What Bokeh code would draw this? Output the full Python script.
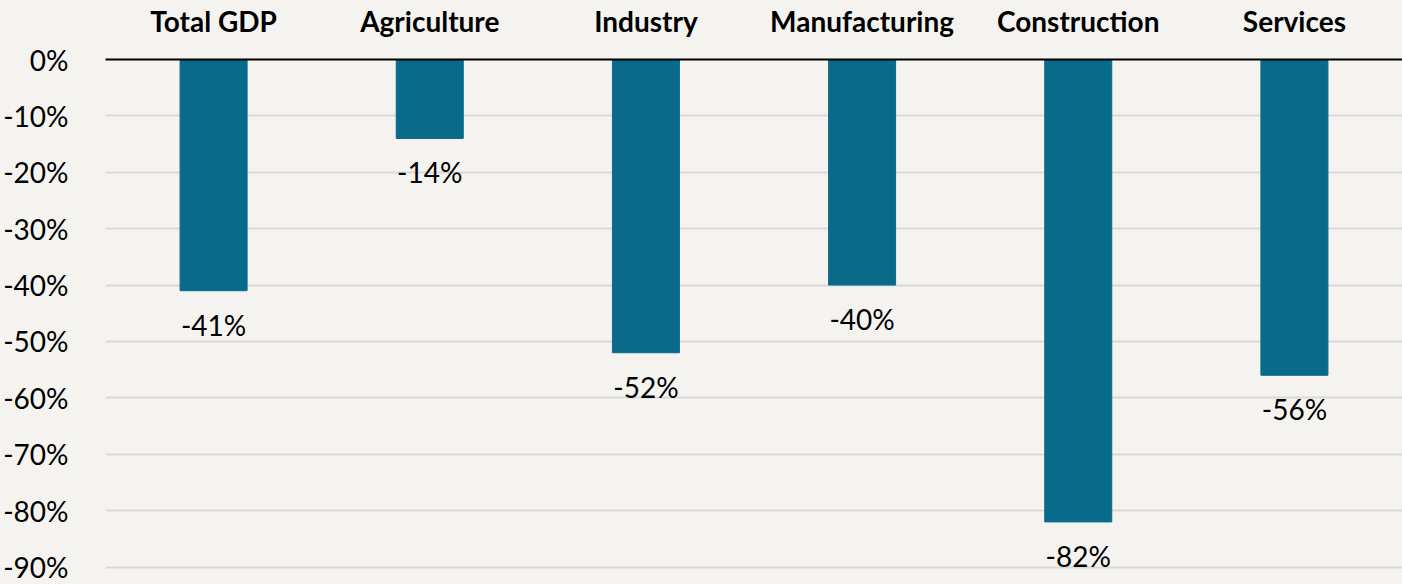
from bokeh.plotting import figure
from bokeh.models import ColumnDataSource, Range1d, FixedTicker, NumeralTickFormatter
from bokeh.core.properties import value
from bokeh.embed import file_html
from bokeh.resources import INLINE

categories = ["Total GDP", "Agriculture", "Industry", "Manufacturing", "Construction", "Services"]
values = [-41, -14, -52, -40, -82, -56]
y_ticks = [0, -10, -20, -30, -40, -50, -60, -70, -80, -90]

BG = "#f4f3ef"
BAR = "#0a6a8a"
FONT = "Lato"

src = ColumnDataSource(dict(
    cat=categories,
    val=[v / 100 for v in values],
    lab=[f"{v}%" for v in values],
))

p = figure(width=1402, height=584, x_range=categories, y_range=Range1d(-0.931, 0),
           output_backend="svg", toolbar_location=None, x_axis_location="above",
           min_border_left=102, min_border_right=0, min_border_bottom=0, min_border_top=59)
p.background_fill_color = BG
p.border_fill_color = BG
p.outline_line_color = None

p.vbar(x="cat", top="val", bottom=0, width=0.31, color=BAR, source=src)
p.text(x="cat", y="val", text="lab", source=src, text_align="center", text_baseline="top",
       y_offset=17, text_font=value(FONT), text_font_size="28px", text_color="#000000")

p.xgrid.grid_line_color = None
p.ygrid.grid_line_color = "#d9d9d9"
p.ygrid.grid_line_width = 2
p.ygrid.ticker = FixedTicker(ticks=[t / 100 for t in y_ticks])

xa = p.xaxis[0]
xa.axis_line_color = "#000000"
xa.axis_line_width = 2
xa.major_tick_line_color = None
xa.minor_tick_line_color = None
xa.major_label_text_font = FONT
xa.major_label_text_font_style = "bold"
xa.major_label_text_font_size = "28px"
xa.major_label_text_color = "#000000"
xa.major_label_standoff = 16

ya = p.yaxis[0]
ya.ticker = FixedTicker(ticks=[t / 100 for t in y_ticks])
ya.formatter = NumeralTickFormatter(format="0%")
ya.axis_line_color = None
ya.major_tick_line_color = None
ya.minor_tick_line_color = None
ya.major_label_text_font = FONT
ya.major_label_text_font_size = "28px"
ya.major_label_text_color = "#000000"
ya.major_label_standoff = 31

html = file_html(p, INLINE)
html = html.replace("<body>", f'<body style="background:{BG}">')
open("out.html", "w").write(html)
